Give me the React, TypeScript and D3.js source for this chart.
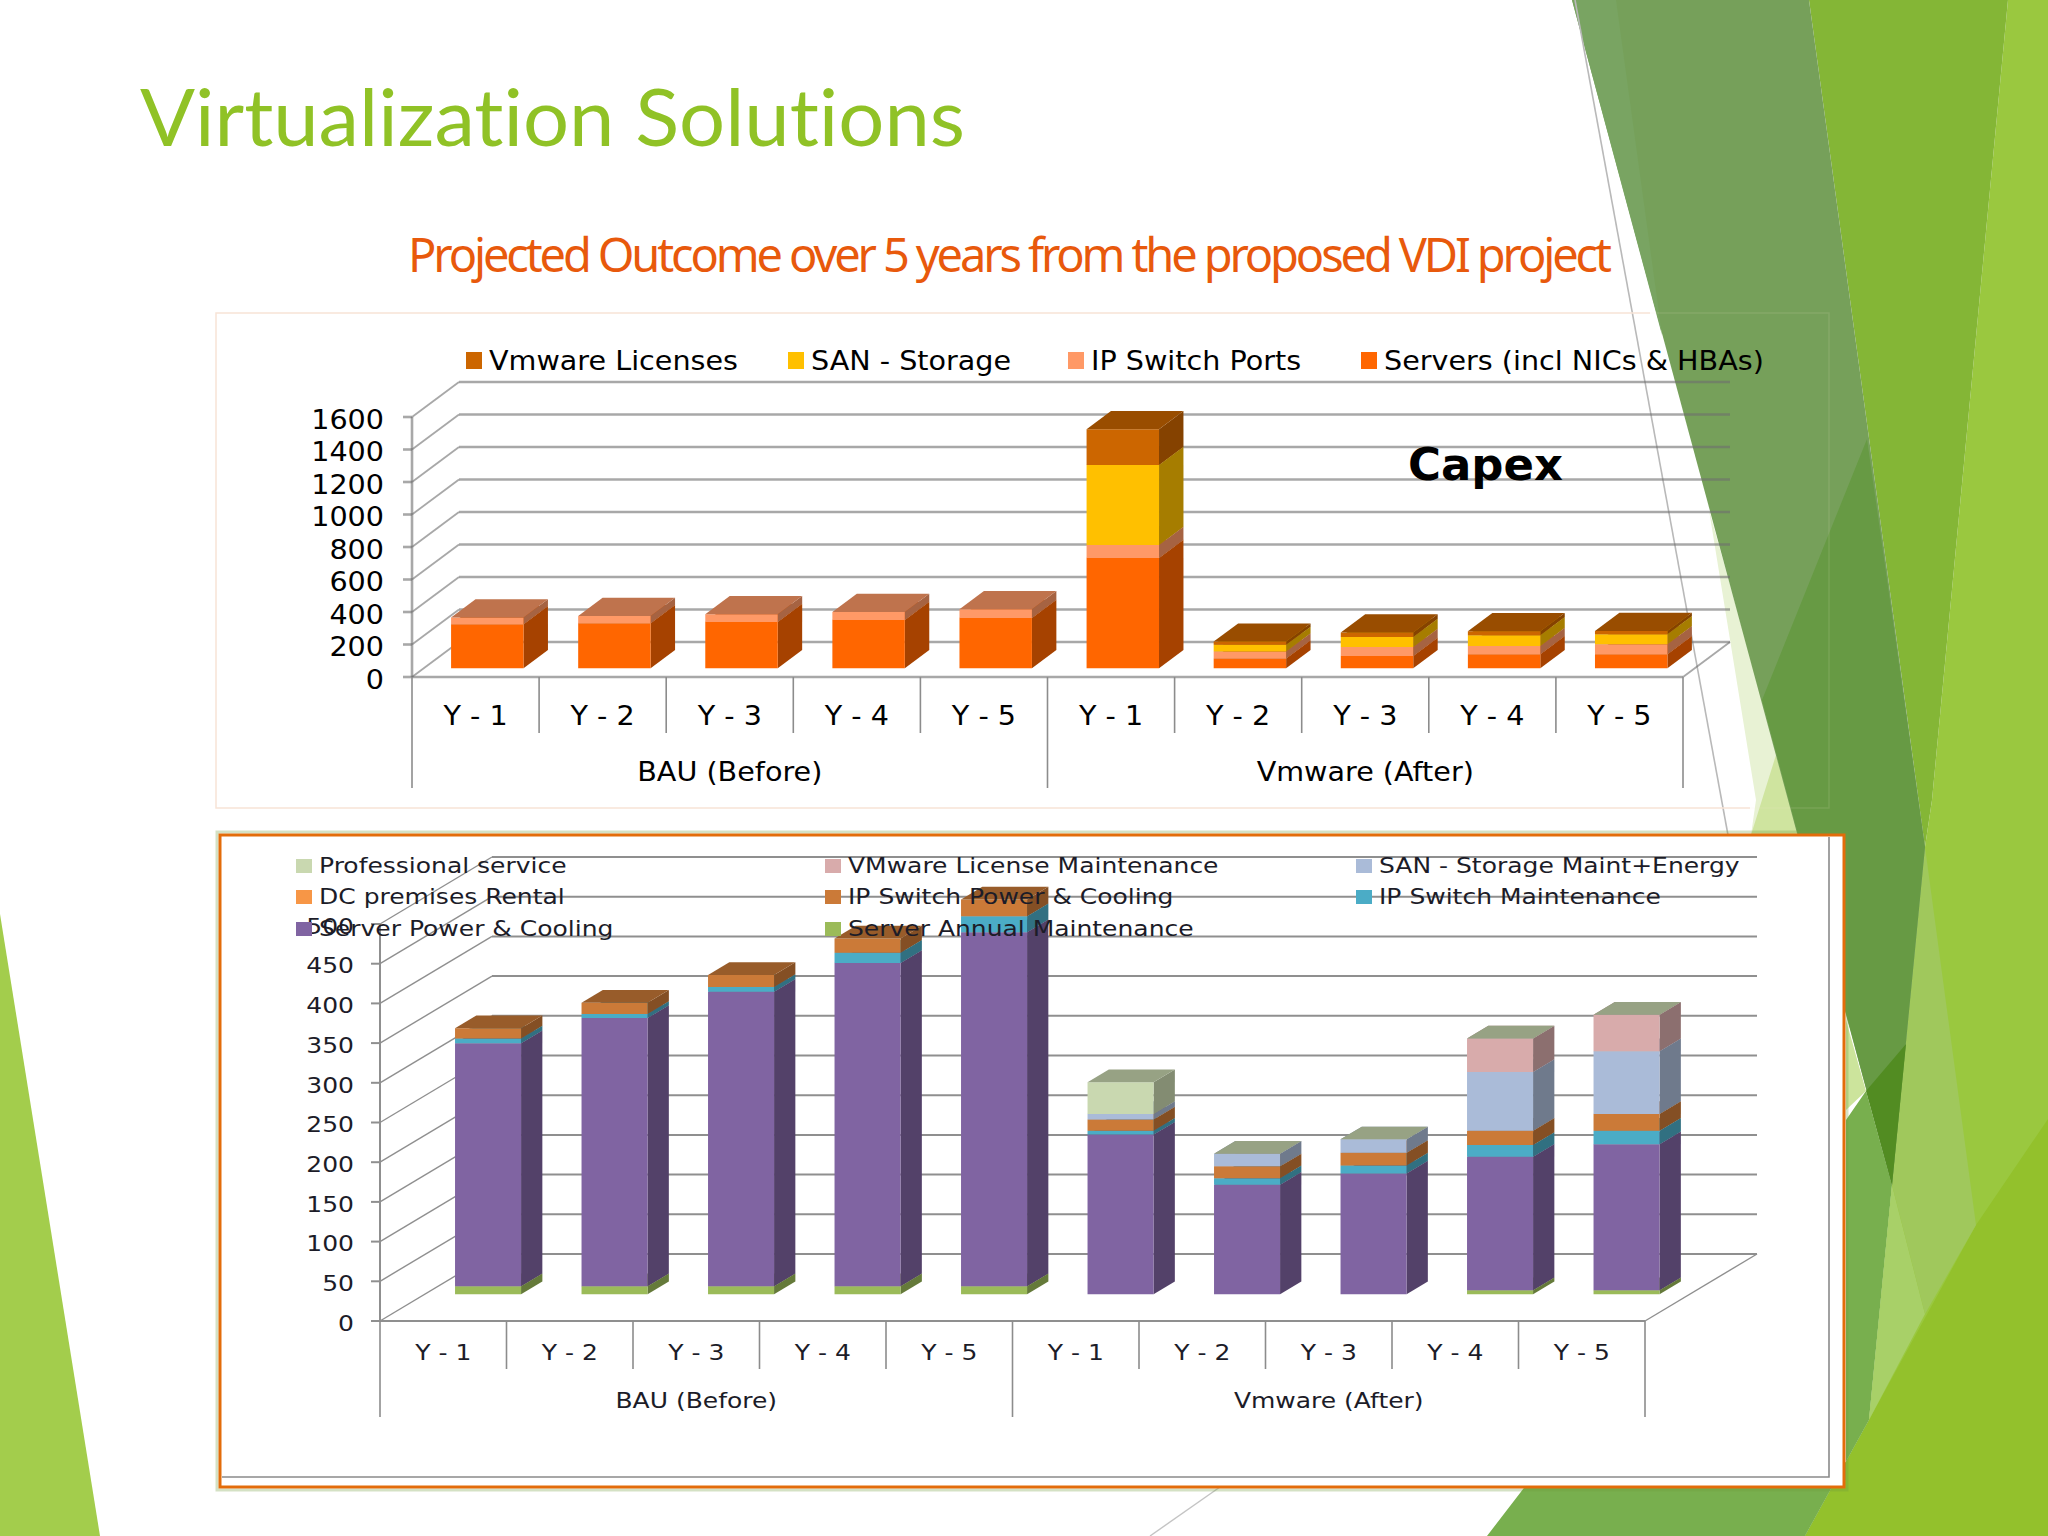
import * as d3 from "d3";

// values
const groups = ["BAU (Before)", "Vmware (After)"];
const years = ["Y - 1", "Y - 2", "Y - 3", "Y - 4", "Y - 5"];
const slots = d3.range(10);

const capexNames = ["Servers (incl NICs & HBAs)", "IP Switch Ports", "SAN - Storage", "Vmware Licenses"];
const capexColors = ["#ff6600", "#ff9966", "#ffc000", "#cc6600"];
const servers = [271, 277, 285, 297, 310, 679, 60, 76, 86, 86];
const ipPorts = [41, 45, 47, 49, 53, 80, 43, 55, 51, 62];
const sanStorage = [null, null, null, null, null, 492, 41, 62, 66, 62];
const vmLicenses = [null, null, null, null, null, 220, 20, 27, 25, 20];
const capexTicks = [0, 200, 400, 600, 800, 1000, 1200, 1400, 1600];

const opexNames = [
  "Server Annual Maintenance",
  "Server Power & Cooling",
  "IP Switch Maintenance",
  "IP Switch Power & Cooling",
  "DC premises Rental",
  "SAN - Storage Maint+Energy",
  "VMware License Maintenance",
  "Professional service",
];
const opexColors = ["#9bbb59", "#8064a2", "#4bacc6", "#cb7a38", "#f79646", "#aabbd8", "#d8abab", "#c9d8b0"];
const serverMaint = [10, 10, 10, 10, 10, null, null, null, 5, 5];
const serverPower = [306, 338, 371, 407, 446, 201, 138, 152, 168, 184];
const switchMaint = [6, 5, 6, 13, 20, 5, 8, 10, 15, 17];
const switchPower = [13, 14, 15, 18, 21, 14, 15, 16, 18, 21];
const dcRental = [null, null, null, null, null, null, null, null, null, null];
const sanMaint = [null, null, null, null, null, 7, 16, 17, 74, 79];
const licenseMaint = [null, null, null, null, null, null, null, null, 42, 46];
const proService = [null, null, null, null, null, 40, 0, 0, 0, 0];
const opexTicks = [0, 50, 100, 150, 200, 250, 300, 350, 400, 450, 500];

// slide decoration, back to front
const backdrop: [string, string][] = [
  ["#9ac83f", "2008,0 2048,0 2048,1536 1805,1536 1869,1420 1892,1185 1925,847 1932,800"],
  ["#84b636", "1809,0 2008,0 1932,800 1925,847"],
  ["#93c12c", "2048,1119 2048,1536 1805,1536 1869,1420 1976,1225"],
  ["#78af4e", "1846,1120 1866,1091 1892,1185 1869,1420 1805,1536 1487,1536 1530,1480 1846,1480"],
  ["#a8d068", "1892,1185 1925,1314 1869,1420"],
  ["#a0c85c", "1925,847 1976,1225 1925,1314 1892,1185"],
  ["#e8f2d4", "1709,510 1756,800 1751,835 1800,835"],
  ["#cfe49f", "1751,835 1776,755 1800,835"],
  ["#cce49c", "1846,1020 1866,1091 1846,1110"],
  ["#76a05a", "1572,0 1809,0 1925,847 1892,1185"],
  ["#79a462", "1572,0 1616,0 1662,335"],
  ["#679a44", "1867,439 1925,847 1892,1185 1762,700"],
  ["#528c22", "1866,1091 1906,1044 1892,1185"],
  ["#a3cd4c", "0,914 100,1536 0,1536"],
];

const shade = (c: string, k: number) => {
  const { r, g, b } = d3.rgb(c);
  return d3.rgb(r * k, g * k, b * k).formatHex();
};

type Layout = {
  x0: number;
  x1: number;
  y0: number;
  h: number;
  max: number;
  dx: number;
  dy: number;
  d0: number;
  d1: number;
  barShare: number;
  stubY: number;
  longY: number;
  yearY: number;
  groupY: number;
  tickRight: number;
  font: number;
  stretch: number;
  grid: string;
  gridW: number;
  ink: string;
};

function Label({ x, y, t, l, anchor = "middle" }: { x: number; y: number; t: string; l: Layout; anchor?: string }) {
  return (
    <text
      transform={`translate(${x},${y}) scale(${l.stretch},1)`}
      textAnchor={anchor}
      dominantBaseline="central"
      fontFamily="DejaVu Sans"
      fontSize={l.font}
      fill={l.ink}
    >
      {t}
    </text>
  );
}

function Chart3D({ l, series, colors, ticks }: { l: Layout; series: (number | null)[][]; colors: string[]; ticks: number[] }) {
  const y = d3.scaleLinear().domain([0, l.max]).range([l.y0, l.y0 - l.h]);
  const x = d3.scaleBand<number>().domain(slots).range([l.x0, l.x1]);
  const band = x.bandwidth();
  const barW = band * l.barShare;
  const inset = (band - barW) / 2;

  const rows = slots.map((i) => series.map((s) => s[i]));
  const stacked = d3
    .stack<(number | null)[], number>()
    .keys(d3.range(series.length))
    .value((row, k) => row[k] ?? 0)(rows);

  const pt = (px: number, depth: number, v: number) => `${px + depth * l.dx},${y(v) - depth * l.dy}`;
  const line = { stroke: l.grid, strokeWidth: l.gridW };

  return (
    <g>
      {ticks.map((t) => (
        <g key={t}>
          <line x1={l.x0 + l.dx} x2={l.x1 + l.dx} y1={y(t) - l.dy} y2={y(t) - l.dy} {...line} />
          <line x1={l.x0} x2={l.x0 + l.dx} y1={y(t)} y2={y(t) - l.dy} {...line} strokeWidth={l.gridW * 0.7} />
          <line x1={l.x0 - 9} x2={l.x0} y1={y(t)} y2={y(t)} {...line} />
          <Label x={l.tickRight} y={y(t) + 2.5} t={String(t)} l={l} anchor="end" />
        </g>
      ))}
      <line x1={l.x0} x2={l.x0} y1={y(0)} y2={y(l.max)} {...line} />
      <line x1={l.x0} x2={l.x1} y1={y(0)} y2={y(0)} {...line} />
      <line x1={l.x1} x2={l.x1 + l.dx} y1={y(0)} y2={y(0) - l.dy} {...line} strokeWidth={l.gridW * 0.7} />

      {slots.map((i) => {
        const left = (x(i) ?? 0) + inset;
        const right = left + barW;
        return (
          <g key={i}>
            {series.map((_, s) => {
              if (rows[i][s] == null) return null;
              const [lo, hi] = stacked[s][i];
              return (
                <g key={s}>
                  <polygon
                    fill={shade(colors[s], 0.65)}
                    points={[pt(right, l.d0, lo), pt(right, l.d1, lo), pt(right, l.d1, hi), pt(right, l.d0, hi)].join(" ")}
                  />
                  <polygon
                    fill={colors[s]}
                    points={[pt(left, l.d0, lo), pt(right, l.d0, lo), pt(right, l.d0, hi), pt(left, l.d0, hi)].join(" ")}
                  />
                  <polygon
                    fill={shade(colors[s], 0.75)}
                    points={[pt(left, l.d0, hi), pt(right, l.d0, hi), pt(right, l.d1, hi), pt(left, l.d1, hi)].join(" ")}
                  />
                </g>
              );
            })}
          </g>
        );
      })}

      {slots.map((i) => (
        <g key={i}>
          <line x1={x(i)} x2={x(i)} y1={y(0)} y2={i % 5 === 0 ? l.longY : l.stubY} stroke="#8c8c8c" strokeWidth={1.6} />
          <Label x={(x(i) ?? 0) + band / 2} y={l.yearY} t={years[i % 5]} l={l} />
        </g>
      ))}
      <line x1={l.x1} x2={l.x1} y1={y(0)} y2={l.longY} stroke="#8c8c8c" strokeWidth={1.6} />
      {groups.map((g, k) => (
        <Label key={g} x={l.x0 + band * (2.5 + k * 5)} y={l.groupY} t={g} l={l} />
      ))}
    </g>
  );
}

const capexLayout: Layout = {
  x0: 412,
  x1: 1683,
  y0: 677,
  h: 260,
  max: 1600,
  dx: 47,
  dy: 35,
  d0: 0.25,
  d1: 0.77,
  barShare: 0.57,
  stubY: 733,
  longY: 788,
  yearY: 716,
  groupY: 772,
  tickRight: 384,
  font: 27,
  stretch: 1.06,
  grid: "rgba(110,110,110,0.6)",
  gridW: 2.6,
  ink: "#000",
};

const opexLayout: Layout = {
  x0: 380,
  x1: 1645,
  y0: 1321,
  h: 397,
  max: 500,
  dx: 112,
  dy: 67,
  d0: 0.4,
  d1: 0.59,
  barShare: 0.522,
  stubY: 1369,
  longY: 1417,
  yearY: 1353,
  groupY: 1401,
  tickRight: 354,
  font: 21,
  stretch: 1.19,
  grid: "#8f8f8f",
  gridW: 2,
  ink: "#1c1c28",
};

// legend order as printed: [series index, swatch x, row]
const capexLegend: [number, number][] = [
  [3, 466],
  [2, 788],
  [1, 1068],
  [0, 1361],
];
const opexLegend: [number, number, number][] = [
  [7, 296, 866],
  [6, 825, 866],
  [5, 1356, 866],
  [4, 296, 897],
  [3, 825, 897],
  [2, 1356, 897],
  [1, 296, 929],
  [0, 825, 929],
];

export default function App() {
  return (
    <svg width={2048} height={1536} style={{ position: "absolute", left: 0, top: 0, background: "#fff" }}>
      {backdrop.map(([fill, points]) => (
        <polygon key={points} fill={fill} points={points} />
      ))}
      <line x1={1575} y1={0} x2={1728} y2={835} stroke="#b9b9b9" strokeWidth={1.6} />
      <line x1={1220} y1={1487} x2={1150} y2={1536} stroke="#c4c4c4" strokeWidth={1.4} />

      <text
        x={140}
        y={146}
        fontFamily="Lato"
        fontSize={80}
        fill="#90c226"
        textLength={825}
        lengthAdjust="spacingAndGlyphs"
        style={{ fontVariantLigatures: "none" }}
      >
        Virtualization Solutions
      </text>
      <text x={408} y={272} fontFamily="Noto Sans" fontSize={47} fill="#e8590c" textLength={1204}>
        Projected Outcome over 5 years from the proposed VDI project
      </text>

      <path d="M1650,313 H216 V808 H1750" fill="none" stroke="#f8e4d6" strokeWidth={1.5} />
      <path d="M1650,313 H1829 V808 H1750" fill="none" stroke="#f8e4d6" strokeOpacity={0.12} strokeWidth={1.5} />
      <Chart3D l={capexLayout} series={[servers, ipPorts, sanStorage, vmLicenses]} colors={capexColors} ticks={capexTicks} />
      {capexLegend.map(([s, sx]) => (
        <g key={s}>
          <rect x={sx} y={352} width={16} height={17} fill={capexColors[s]} />
          <Label x={sx + 23} y={361} t={capexNames[s]} l={capexLayout} anchor="start" />
        </g>
      ))}
      <text x={1408} y={480} fontFamily="DejaVu Sans" fontWeight="bold" fontSize={44} fill="#000" textLength={155} lengthAdjust="spacingAndGlyphs">
        Capex
      </text>

      <rect x={217} y={832} width={1630} height={658} fill="none" stroke="#6f9c3c" strokeOpacity={0.3} strokeWidth={3} />
      <rect x={220} y={835} width={1624} height={652} fill="#fff" stroke="#e36c0a" strokeWidth={3} />
      <path d="M1829,837 V1477 H222" fill="none" stroke="#8a8a8a" strokeWidth={1.6} />
      <Chart3D
        l={opexLayout}
        series={[serverMaint, serverPower, switchMaint, switchPower, dcRental, sanMaint, licenseMaint, proService]}
        colors={opexColors}
        ticks={opexTicks}
      />
      {opexLegend.map(([s, sx, sy]) => (
        <g key={s}>
          <rect x={sx} y={sy - 7} width={16} height={14} fill={opexColors[s]} />
          <Label x={sx + 23} y={sy} t={opexNames[s]} l={opexLayout} anchor="start" />
        </g>
      ))}
    </svg>
  );
}
